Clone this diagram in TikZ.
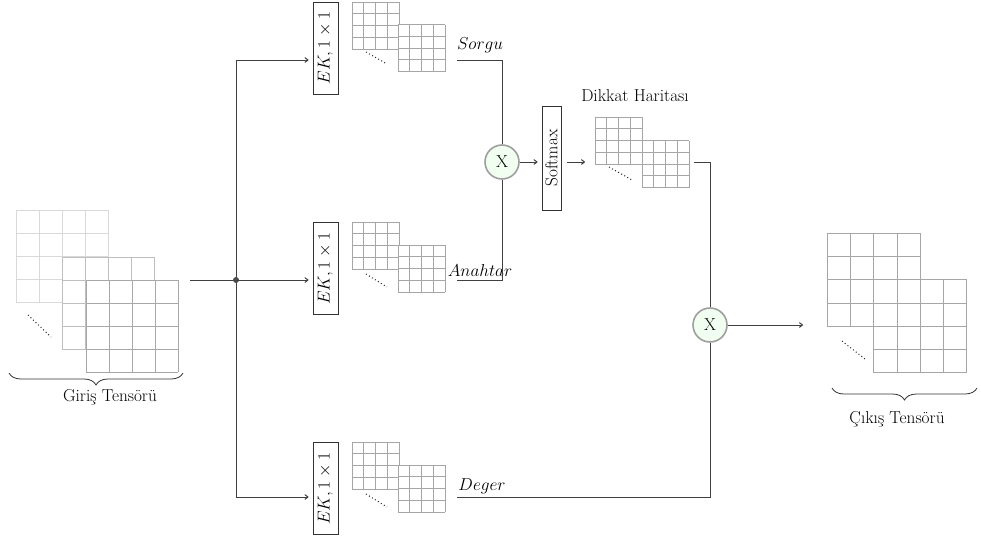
\documentclass[tikz,border=0pt]{standalone}
\usetikzlibrary{decorations.pathreplacing,arrows.meta}
\newcommand\tgrid[4]{%
  \fill[white] (#1,#2) rectangle (#1+4*#3,#2+4*#3);
  \foreach \gi in {0,...,4}{
    \draw[#4] (#1+\gi*#3,#2) -- (#1+\gi*#3,#2+4*#3);
    \draw[#4] (#1,#2+\gi*#3) -- (#1+4*#3,#2+\gi*#3);
  }}
\begin{document}
\begin{tikzpicture}[x=1pt,y=-1pt,
  font=\fontsize{17.28}{20}\selectfont,
  conn/.style={draw=black!75, line width=1pt},
  arr/.style={conn, -{To[length=4pt,width=5.5pt]}},
  ekbox/.style={draw=black!80, line width=1pt, rotate=90, minimum width=92pt, minimum height=25pt, inner sep=0pt},
  smbox/.style={draw=black!80, line width=1pt, rotate=90, minimum width=104pt, minimum height=19pt, inner sep=0pt},
  mult/.style={circle, draw=gray!75, line width=1.6pt, fill=green!6, minimum size=34pt, inner sep=0pt},
  gA/.style={draw=gray!30, line width=0.8pt},
  gB/.style={draw=gray!50, line width=0.8pt},
  gC/.style={draw=gray!68, line width=0.8pt},
  gS/.style={draw=gray!70, line width=0.7pt},
  dots/.style={draw=black!85, line width=1pt, dash pattern=on 1pt off 2.5pt},
  brc/.style={draw=black!80, line width=0.8pt, decorate, decoration={brace, amplitude=12pt}}]
\useasboundingbox (0,0) rectangle (981,541);

% input tensor
\tgrid{16}{210}{23}{gA}
\tgrid{62}{257}{23}{gB}
\tgrid{86}{280}{23}{gC}
\draw[dots] (28,315) -- (51,337);
\draw[brc] (183,373) -- (9,373);
\node (lin) at (110,397) {Giriş Tensörü};

% small tensors
\tgrid{352}{2}{11.75}{gS}
\tgrid{398}{24.5}{11.75}{gS}
\draw[dots] (366,52) -- (387,64);
\tgrid{352}{222}{11.75}{gS}
\tgrid{398}{245}{11.75}{gS}
\draw[dots] (366,274) -- (387,287);
\tgrid{352}{442}{11.75}{gS}
\tgrid{398}{465}{11.75}{gS}
\draw[dots] (366,494) -- (387,507);
\tgrid{595}{117}{11.75}{gS}
\tgrid{642}{140.5}{11.75}{gS}
\draw[dots] (609,167) -- (632,180);

% output tensor
\tgrid{827}{233}{23.3}{gS}
\tgrid{873.6}{279.6}{23.3}{gS}
\draw[dots] (842,341) -- (865,359);
\draw[brc] (977,388) -- (832,388);
\node (lout) at (897,419) {Çıkış Tensörü};

% nodes
\node[ekbox] (ekQ) at (325.5,48) {$EK,1\times1$};
\node[ekbox] (ekK) at (325.5,268.5) {$EK,1\times1$};
\node[ekbox] (ekV) at (325.5,488.5) {$EK,1\times1$};
\node[mult] (m1) at (502,162) {X};
\node[mult] (m2) at (710,325) {X};
\node[smbox] (sm) at (551.5,158) {Softmax};

\node (lq) at (480,45) {$Sorgu$};
\node (lk) at (480,270) {$Anahtar$};
\node (lv) at (482,486) {$Deger$};
\node (ld) at (635,96) {Dikkat Haritası};

% connectors
\coordinate (inS) at (190,280);
\coordinate (jn) at (236,280);
\coordinate (jQ) at (236,60);
\coordinate (jV) at (236,497);
\draw[conn] (inS) -- (jn);
\draw[conn] (jQ) -- (jV);
\fill[black!70] (jn) circle (3pt);
\draw[arr, shorten >=4pt] (jQ) -- (jQ -| ekQ.north);
\draw[arr, shorten >=4pt] (jn) -- (jn -| ekK.north);
\draw[arr, shorten >=4pt] (jV) -- (jV -| ekV.north);

\coordinate (qOut) at (457,60);
\coordinate (kOut) at (457,280);
\coordinate (vOut) at (457,497);
\coordinate (aOut) at (694,162);
\coordinate (aIn) at (585,162);
\coordinate (oIn) at (803,325);
\draw[conn] (qOut) -| (m1.north);
\draw[conn] (kOut) -| (m1.south);
\draw[conn] (vOut) -| (m2.south);
\draw[conn] (aOut) -| (m2.north);
\draw[arr, shorten >=4pt] (m1.east) -- (m1.east -| sm.north);
\draw[arr, shorten <=5pt] (sm.south |- m1) -- (aIn);
\draw[arr] (m2.east) -- (oIn);
\end{tikzpicture}
\end{document}
